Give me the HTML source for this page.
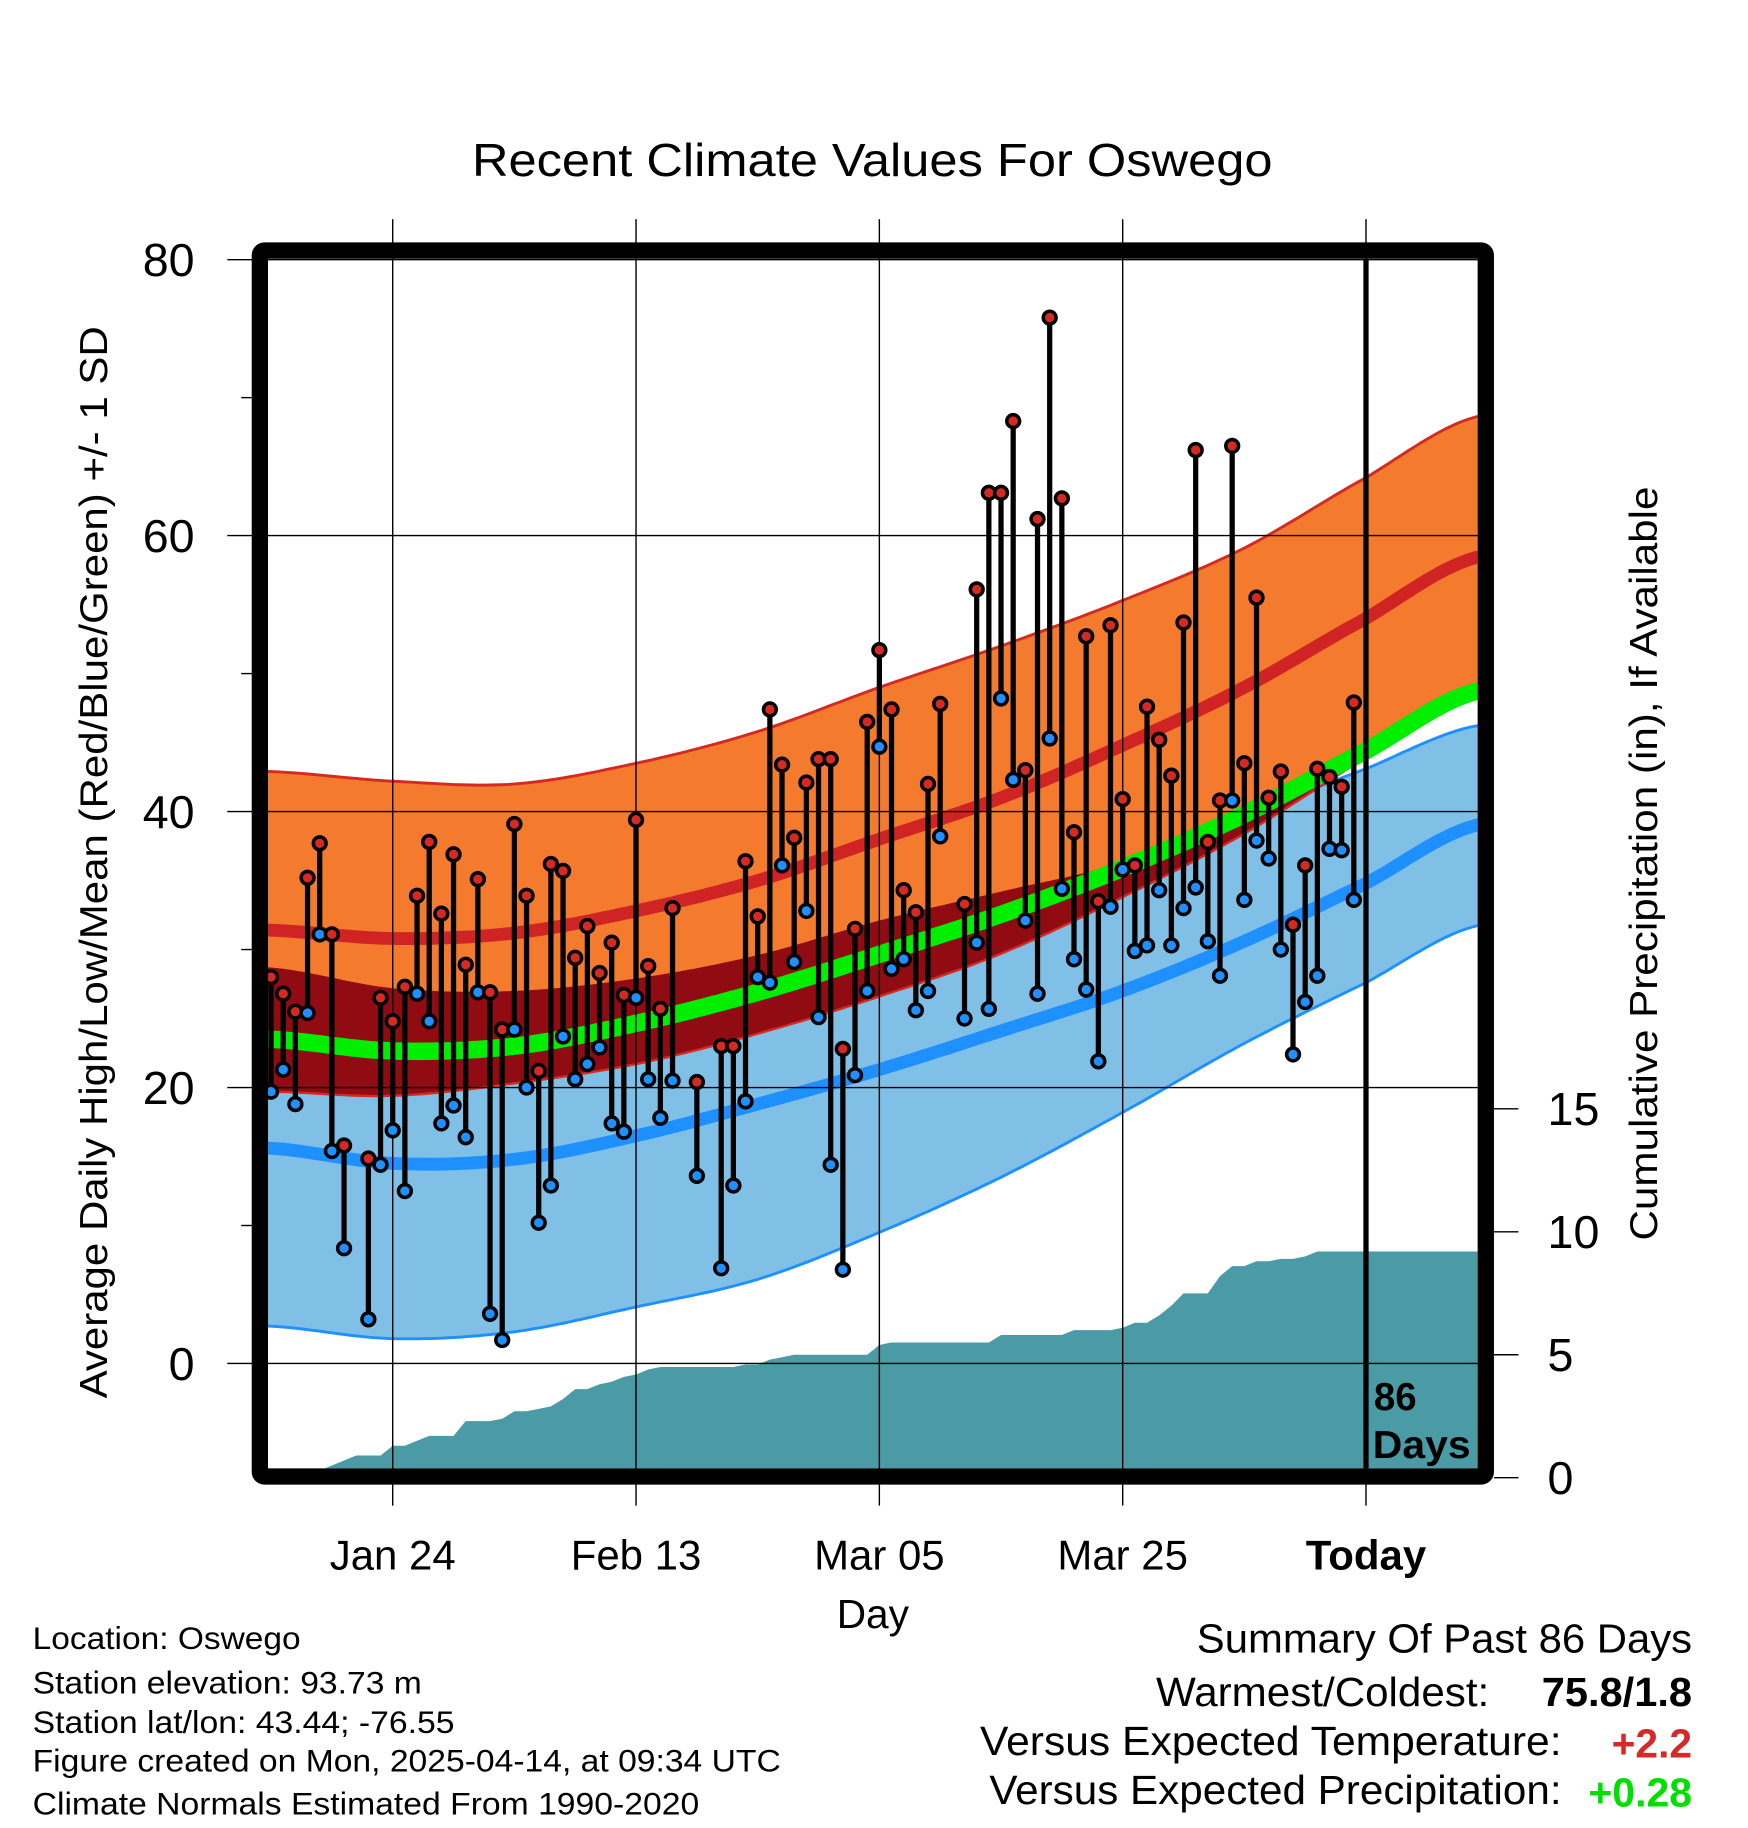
<!DOCTYPE html>
<html><head><meta charset="utf-8"><style>
html,body{margin:0;padding:0;background:#fff;}
svg{display:block;font-family:"Liberation Sans",Arial,sans-serif;}
</style></head><body>
<svg id="chart" width="1748" height="1828" viewBox="0 0 1500 1568.6" preserveAspectRatio="none" xmlns="http://www.w3.org/2000/svg">
<defs><clipPath id="plotclip"><rect x="230" y="222" width="1038" height="1038"/></clipPath></defs>
<g id="bands" clip-path="url(#plotclip)"></g>
<g id="precip" clip-path="url(#plotclip)"></g>
<g id="grid"></g>
<g id="marks" clip-path="url(#plotclip)"></g>
<g id="axes"></g>
<text x="405" y="151" font-size="40" textLength="687" lengthAdjust="spacingAndGlyphs">Recent Climate Values For Oswego</text>
<text transform="translate(92,740) rotate(-90)" font-size="33" text-anchor="middle" textLength="920" lengthAdjust="spacingAndGlyphs">Average Daily High/Low/Mean (Red/Blue/Green) +/- 1 SD</text>
<text transform="translate(1422,741) rotate(-90)" font-size="33" text-anchor="middle" textLength="647" lengthAdjust="spacingAndGlyphs">Cumulative Precipitation (in), If Available</text>
<text x="718" y="1397" font-size="35" textLength="62" lengthAdjust="spacingAndGlyphs">Day</text>
<g font-size="27">
<text x="28" y="1415" textLength="230" lengthAdjust="spacingAndGlyphs">Location: Oswego</text>
<text x="28" y="1453" textLength="334" lengthAdjust="spacingAndGlyphs">Station elevation: 93.73 m</text>
<text x="28" y="1487" textLength="362" lengthAdjust="spacingAndGlyphs">Station lat/lon: 43.44; -76.55</text>
<text x="28" y="1520" textLength="642" lengthAdjust="spacingAndGlyphs">Figure created on Mon, 2025-04-14, at 09:34 UTC</text>
<text x="28" y="1557" textLength="572" lengthAdjust="spacingAndGlyphs">Climate Normals Estimated From 1990-2020</text>
</g>
<g font-size="35">
<text x="1027" y="1418" textLength="425" lengthAdjust="spacingAndGlyphs">Summary Of Past 86 Days</text>
<text x="992" y="1464" textLength="286" lengthAdjust="spacingAndGlyphs">Warmest/Coldest:</text>
<text x="1323" y="1464" font-weight="bold" textLength="129" lengthAdjust="spacingAndGlyphs">75.8/1.8</text>
<text x="841" y="1506" textLength="499" lengthAdjust="spacingAndGlyphs">Versus Expected Temperature:</text>
<text x="1383" y="1508" font-weight="bold" fill="#D42A2A" textLength="69" lengthAdjust="spacingAndGlyphs">+2.2</text>
<text x="849" y="1548" textLength="491" lengthAdjust="spacingAndGlyphs">Versus Expected Precipitation:</text>
<text x="1363" y="1550" font-weight="bold" fill="#00E000" textLength="89" lengthAdjust="spacingAndGlyphs">+0.28</text>
</g>
</svg>
<script>
// ---- data ----
const normalDays = [0,10,20,30,40,50,60,70,80,90,99];
const highUpper = [42.9,42.2,42.0,43.5,45.8,49.0,52.0,55.3,59.1,64.2,68.6];
const highMean  = [31.4,30.8,31.2,32.8,35.0,38.0,41.0,44.8,49.0,54.0,58.4];
const highLower = [19.7,19.4,20.3,21.7,23.9,26.6,29.7,33.8,38.4,43.9,49.0];
const lowUpper  = [28.7,27.2,27.0,27.9,29.6,32.1,34.2,36.3,39.7,43.1,46.2];
const lowMean   = [15.6,14.5,14.8,16.5,18.8,21.3,24.1,27.0,30.6,34.8,39.0];
const lowLower  = [2.7,1.8,2.3,4.1,6.1,9.5,13.5,18.2,23.2,27.6,31.7];
const dailyHigh = [28.0,26.8,25.5,35.2,37.7,31.1,15.8,null,14.85,26.5,24.8,27.3,33.9,37.8,32.6,36.9,28.9,35.1,26.9,24.2,
39.1,33.9,21.2,36.2,35.7,29.4,31.7,28.3,30.5,26.7,39.4,28.8,25.7,33.0,null,20.4,null,23.0,23.0,36.4,
32.4,47.4,43.4,38.1,42.1,43.8,43.8,22.8,31.5,46.5,51.7,47.4,34.3,32.7,42.0,47.8,null,33.3,56.1,63.1,
63.1,68.3,43.0,61.2,75.8,62.7,38.5,52.7,33.5,53.5,40.9,36.1,47.6,45.2,42.6,53.7,66.2,37.8,40.8,66.5,
43.5,55.5,41.0,42.9,31.8,36.1,43.1,42.5,41.8,47.9];
const dailyLow = [19.7,21.3,18.8,25.4,31.1,15.4,8.35,null,3.2,14.4,16.9,12.5,26.8,24.8,17.4,18.7,16.4,26.9,3.6,1.7,
24.2,20.0,10.2,12.9,23.7,20.6,21.7,22.9,17.4,16.8,26.5,20.6,17.8,20.5,null,13.6,null,6.9,12.9,19.0,
28.0,27.6,36.1,29.1,32.8,25.1,14.4,6.8,20.9,27.0,44.7,28.6,29.3,25.6,27.0,38.2,null,25.0,30.5,25.7,
48.2,42.3,32.1,26.8,45.3,34.4,29.3,27.1,21.9,33.1,35.8,29.9,30.3,34.3,30.3,33.0,34.5,30.6,28.1,40.8,
33.6,37.9,36.6,30.0,22.4,26.2,28.1,37.3,37.2,33.6];
const cumPrecip = [0,0,0,0.1,0.3,0.5,0.7,0.9,0.9,0.9,1.3,1.3,1.5,1.7,1.7,1.7,2.3,2.3,2.3,2.4,
2.7,2.7,2.8,2.9,3.2,3.6,3.6,3.8,3.9,4.1,4.2,4.4,4.5,4.5,4.5,4.5,4.5,4.5,4.5,4.6,
4.6,4.8,4.9,5.0,5.0,5.0,5.0,5.0,5.0,5.0,5.4,5.5,5.5,5.5,5.5,5.5,5.5,5.5,5.5,5.5,
5.8,5.8,5.8,5.8,5.8,5.8,6.0,6.0,6.0,6.0,6.1,6.3,6.3,6.6,7.0,7.5,7.5,7.5,8.2,8.6,
8.6,8.8,8.8,8.9,8.9,9.0,9.2,9.2,9.2,9.2];
const xTickDays = [10,30,50,70,90];
const xTickLabels = ["Jan 24","Feb 13","Mar 05","Mar 25","Today"];
const yTicks = [0,20,40,60,80];
const pTicks = [0,5,10,15];

// ---- scales ----
const xS = d => 232.6 + d*10.44;
const yS = v => 1170 - v*11.84;
const pS = p => 1268 - p*21.1;
const NS = "http://www.w3.org/2000/svg";
function mk(tag, attrs, parent){const e=document.createElementNS(NS,tag);for(const k in attrs)e.setAttribute(k,attrs[k]);parent.appendChild(e);return e;}

function interp(arr, d){
  let i=0; while(i<normalDays.length-2 && d>normalDays[i+1]) i++;
  const t=(d-normalDays[i])/(normalDays[i+1]-normalDays[i]);
  const p0=arr[Math.max(i-1,0)],p1=arr[i],p2=arr[i+1],p3=arr[Math.min(i+2,arr.length-1)];
  return 0.5*((2*p1)+(-p0+p2)*t+(2*p0-5*p1+4*p2-p3)*t*t+(-p0+3*p1-3*p2+p3)*t*t*t);
}
const samp=[]; for(let d=-1; d<=100; d+=0.5) samp.push(d);
function linePts(arr){return samp.map(d=>xS(d).toFixed(1)+","+yS(interp(arr,d)).toFixed(1));}
function bandPath(topF, botF){
  const top=samp.map(d=>xS(d).toFixed(1)+","+yS(topF(d)).toFixed(1));
  const bot=samp.slice().reverse().map(d=>xS(d).toFixed(1)+","+yS(botF(d)).toFixed(1));
  return "M"+top.join("L")+"L"+bot.join("L")+"Z";
}
const bands=document.getElementById("bands");
let e;
e=mk("path",{d:bandPath(d=>interp(lowUpper,d),d=>interp(lowLower,d)),fill:"#80C0E6"},bands);
 
e=mk("polyline",{points:linePts(lowLower).join(" "),fill:"none",stroke:"#1E90FF","stroke-width":2.5},bands);
 
e=mk("polyline",{points:linePts(lowUpper).join(" "),fill:"none",stroke:"#1E90FF","stroke-width":2.5},bands);
 
e=mk("path",{d:bandPath(d=>interp(highUpper,d),d=>interp(highLower,d)),fill:"#F47A2E"},bands);
 
e=mk("path",{d:bandPath(d=>Math.max(interp(lowUpper,d),interp(highLower,d)),d=>interp(highLower,d)),fill:"#900C12"},bands);
 
e=mk("polyline",{points:linePts(highUpper).join(" "),fill:"none",stroke:"#D42A22","stroke-width":2.5},bands);
 
e=mk("polyline",{points:linePts(highLower).join(" "),fill:"none",stroke:"#D42A22","stroke-width":2},bands);
 
e=mk("polyline",{points:linePts(highMean).join(" "),fill:"none",stroke:"#D02424","stroke-width":11},bands);
 
e=mk("polyline",{points:linePts(lowMean).join(" "),fill:"none",stroke:"#1E90FF","stroke-width":11},bands);
 
const meanArr=highMean.map((h,i)=>(h+lowMean[i])/2);
e=mk("polyline",{points:linePts(meanArr).join(" "),fill:"none",stroke:"#00EE00","stroke-width":15},bands);
 

// precipitation area (sloped steps)
const pg=document.getElementById("precip");
let pd="M"+xS(0).toFixed(1)+","+pS(0);
cumPrecip.forEach((p,i)=>{pd+="L"+xS(i).toFixed(1)+","+pS(p).toFixed(1);});
const lastP=cumPrecip[cumPrecip.length-1];
pd+="L1270,"+pS(lastP).toFixed(1)+"L1270,1262L"+xS(0).toFixed(1)+",1262Z";
e=mk("path",{d:pd,fill:"#4A9BA5"},pg);
 

// grid
const grid=document.getElementById("grid");
xTickDays.forEach((d,i)=>{
  e=mk("line",{x1:xS(d),x2:xS(d),y1:188,y2:1292,stroke:"#000","stroke-width":1.2},grid);
  
  
});
yTicks.forEach(v=>{
  e=mk("line",{x1:195,x2:1268,y1:yS(v),y2:yS(v),stroke:"#000","stroke-width":1.2},grid);
   
});
[10,30,50,70].forEach(v=>{
  e=mk("line",{x1:207,x2:216,y1:yS(v),y2:yS(v),stroke:"#000","stroke-width":1.2},grid);
   
});

// marks
const mg=document.getElementById("marks");
dailyHigh.forEach((h,i)=>{
  const l=dailyLow[i]; if(h==null||l==null) return;
  e=mk("line",{x1:xS(i),x2:xS(i),y1:yS(h),y2:yS(l),stroke:"#000","stroke-width":4.5},mg);
   
});
dailyHigh.forEach((h,i)=>{
  const l=dailyLow[i]; if(h==null||l==null) return;
  e=mk("circle",{cx:xS(i),cy:yS(l),r:5.5,fill:"#1E90FF",stroke:"#000","stroke-width":3},mg);
   
  e=mk("circle",{cx:xS(i),cy:yS(h),r:5.5,fill:"#D42A22",stroke:"#000","stroke-width":3},mg);
   
});
e=mk("line",{x1:xS(90),x2:xS(90),y1:222,y2:1260,stroke:"#000","stroke-width":4.5},mg);
 
e=mk("text",{x:1179,y:1210,"font-size":33,"font-weight":"bold"},mg); e.textContent="86";
 
e=mk("text",{x:1178,y:1251,"font-size":33,"font-weight":"bold",textLength:84,lengthAdjust:"spacingAndGlyphs"},mg); e.textContent="Days";
 

// axes
const ax=document.getElementById("axes");
e=mk("rect",{x:223,y:215,width:1052,height:1052,fill:"none",stroke:"#000","stroke-width":14,rx:4},ax);
 
yTicks.forEach(v=>{
  e=mk("text",{x:167,y:yS(v)+14,"font-size":40,"text-anchor":"end"},ax); e.textContent=v;
   
});
pTicks.forEach(p=>{
  e=mk("line",{x1:1282,x2:1303,y1:pS(p),y2:pS(p),stroke:"#000","stroke-width":1.2},ax);
   
  e=mk("text",{x:1328,y:pS(p)+14,"font-size":40},ax); e.textContent=p;
   
});
xTickDays.forEach((d,i)=>{
  e=mk("text",{x:xS(d),y:1347,"font-size":36,"text-anchor":"middle","font-weight":i==4?"bold":"normal"},ax); e.textContent=xTickLabels[i];
   
});
</script>
</body></html>
